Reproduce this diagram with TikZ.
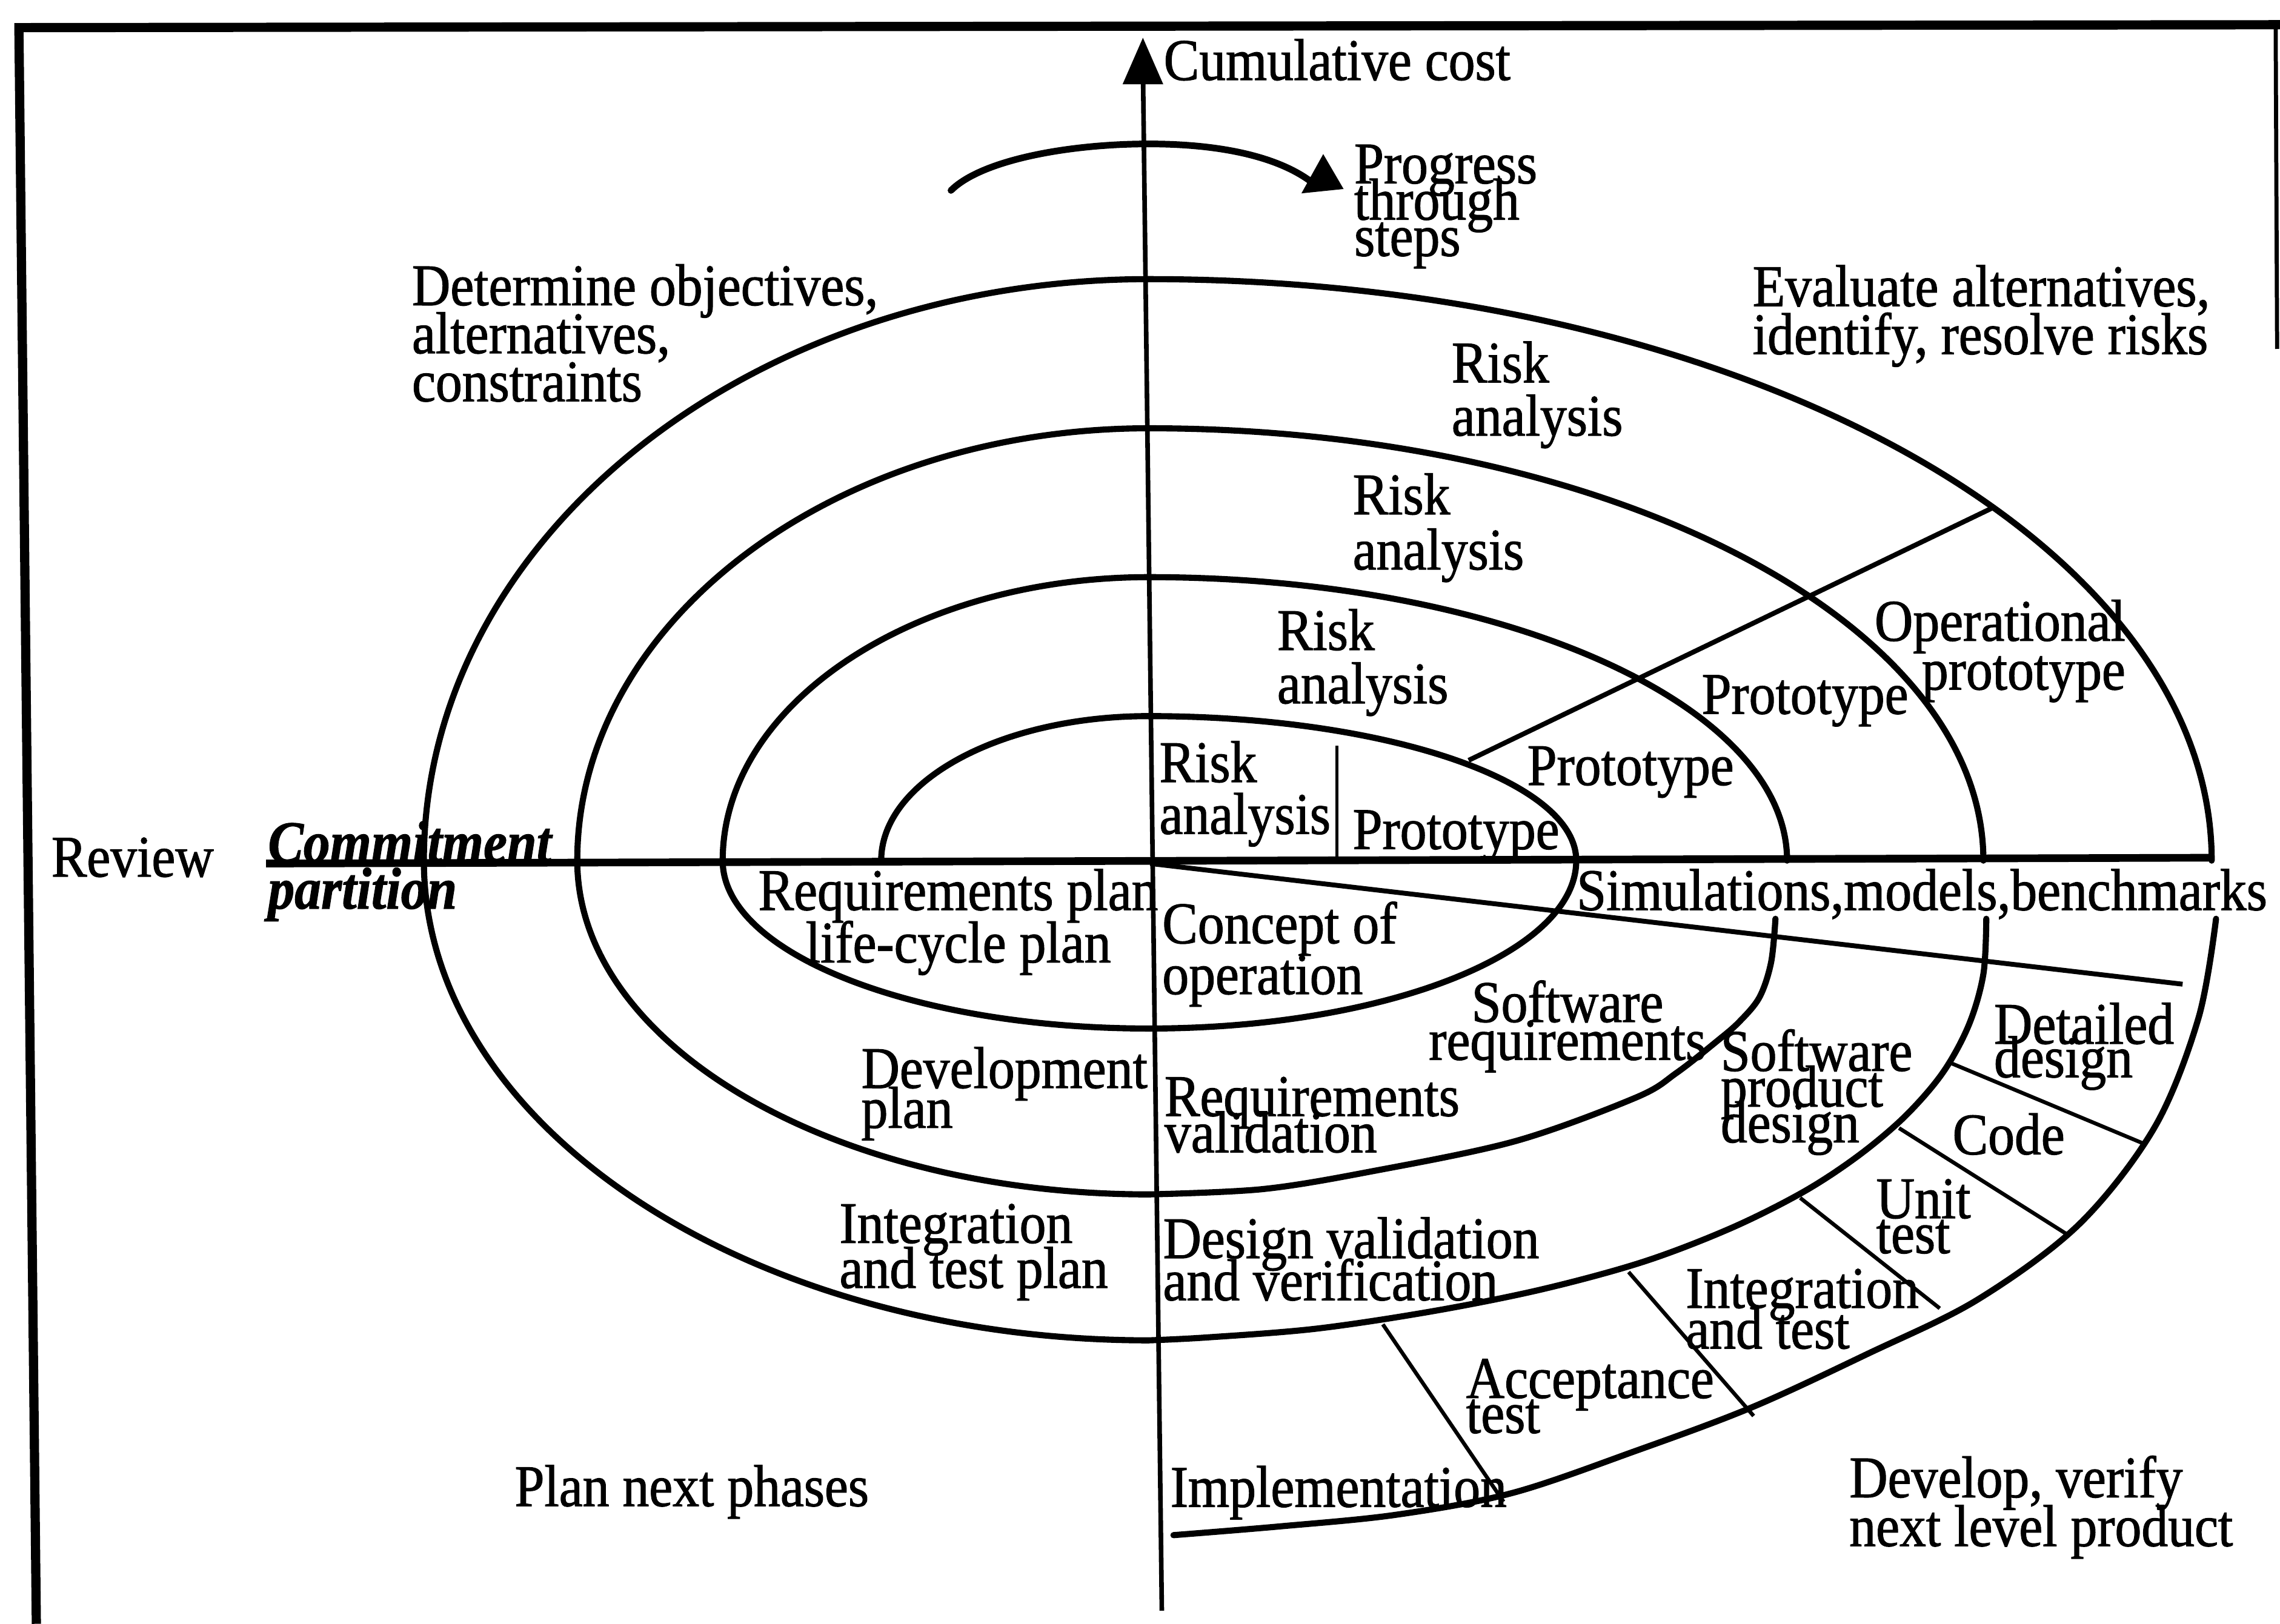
\documentclass[tikz,border=0pt]{standalone}
\usepackage{fontspec}
\setmainfont{Liberation Serif}[FakeStretch=0.9, FakeBold=1.2]
% let \baselineskip alone set the leading of stacked label lines
\newcommand{\tightlines}{\lineskiplimit-100pt\relax}
\begin{document}
\begin{tikzpicture}[x=0.02cm, y=-0.02cm,
  frame/.style={line width=3.6pt},
  thinframe/.style={line width=1.6pt},
  haxis/.style={line width=3.0pt},
  vaxis/.style={line width=1.8pt},
  spiral/.style={line width=2.4pt, line join=round, line cap=round},
  spoke/.style={line width=1.9pt},
  thinspoke/.style={line width=1.5pt},
  hairspoke/.style={line width=1.1pt},
  % labels are anchored at the baseline of their last line
  lbl/.style={inner sep=0pt, anchor=base west, align=left,
    font=\fontsize{23.1}{#1}\selectfont\tightlines},
  lbl/.default=19,
  clbl/.style={lbl=#1, anchor=base, align=center},
  rlbl/.style={lbl=#1, anchor=base east, align=right},
  bilbl/.style={inner sep=0pt, anchor=base west, align=left,
    font=\fontsize{23.1}{#1}\selectfont\tightlines\bfseries\itshape},
]
\useasboundingbox (0,0) rectangle (1568,1117);

% frame
\coordinate (tl) at (13,19);
\coordinate (tr) at (1568,17);
\coordinate (bl) at (25,1117);
\coordinate (rt) at (1565,17);
\coordinate (rb) at (1566,240);
\draw[frame] (bl) -- (tl) -- (tr);
\draw[thinframe] (rt) -- (rb);

% axes
\coordinate (O) at (790,592);
\coordinate (vtop) at (786,45);
\coordinate (vbot) at (799,1108);
\coordinate (hleft) at (183,594);
\coordinate (hright) at (1522,590);
\draw[vaxis] (vtop) -- (vbot);
\draw[haxis] (hleft) -- (hright);
\fill (786,26) -- (772,58) -- (800,58) -- cycle;

% progress arrow
\coordinate (pa) at (654,131);
\coordinate (pb) at (790,99);
\coordinate (pc) at (903,126);
\draw[line width=2.6pt, line cap=round] (pa) .. controls (675,110) and (735,99) .. (pb)
  .. controls (840,99) and (880,108) .. (pc);
\fill (910,106) -- (895,133) -- (924,130) -- cycle;

% spiral: inner turn
\draw[spiral] (606,592)
  arc[start angle=180, end angle=270, x radius=184, y radius=99.4]
  arc[start angle=270, end angle=360, x radius=294, y radius=99.4]
  arc[start angle=0, end angle=90, x radius=294, y radius=115.5]
  arc[start angle=90, end angle=180, x radius=293, y radius=115.5]
  arc[start angle=180, end angle=270, x radius=293, y radius=195]
  arc[start angle=270, end angle=360, x radius=439, y radius=195];
% second turn
\draw[spiral] plot[smooth, tension=0.55] coordinates {(1221,632) (1218,662) (1210,686) (1196,703) (1181,716) (1153,738) (1125,755) (1042,785) (942,806) (868,818) (790,821.6)}
  arc[start angle=90, end angle=180, x radius=393, y radius=229.6]
  arc[start angle=180, end angle=270, x radius=393, y radius=297.4]
  arc[start angle=270, end angle=360, x radius=574, y radius=297.4];
% third turn
\draw[spiral] plot[smooth, tension=0.55] coordinates {(1366,632) (1364,670) (1354,705) (1336,738) (1310,768) (1278,795) (1240,820) (1190,845) (1130,868) (1060,887) (985,902) (905,914) (830,920) (790,922)}
  arc[start angle=90, end angle=180, x radius=498.5, y radius=330]
  arc[start angle=180, end angle=270, x radius=498.5, y radius=400]
  arc[start angle=270, end angle=360, x radius=731, y radius=400];
% last half turn
\draw[spiral] plot[smooth, tension=0.55] coordinates {(1524,632) (1512,700) (1482,775) (1430,842) (1360,894) (1285,931) (1205,968) (1125,998) (1040,1027) (960,1042) (880,1050) (807,1056)};

% radial lines
\coordinate (s0) at (791,594);
\coordinate (s1) at (1501,677);
\draw[spoke] (s0) -- (s1);
\coordinate (u0) at (1010,523);
\coordinate (u1) at (1371,349);
\draw[spoke] (u0) -- (u1);
\coordinate (r0) at (919.5,513);
\coordinate (r1) at (919.5,592);
\draw[hairspoke] (r0) -- (r1);
\coordinate (d0) at (1341,731);  \coordinate (d1) at (1475,787);
\coordinate (c0) at (1306,776);  \coordinate (c1) at (1423,850);
\coordinate (t0) at (1238,824);  \coordinate (t1) at (1334,900);
\coordinate (i0) at (1120,875);  \coordinate (i1) at (1206,974);
\coordinate (a0) at (951,911);   \coordinate (a1) at (1034,1033);
\draw[thinspoke] (d0) -- (d1);
\draw[thinspoke] (c0) -- (c1);
\draw[thinspoke] (t0) -- (t1);
\draw[thinspoke] (i0) -- (i1);
\draw[thinspoke] (a0) -- (a1);

% labels
\node[lbl] (cost) at (800,55) {Cumulative cost};
\node[lbl=14.2] (progress) at (931,176) {Progress\\through\\steps};
\node[lbl=18.8] (determine) at (283,276) {Determine objectives,\\alternatives,\\constraints};
\node[lbl=18.8] (evaluate) at (1205,243.6) {Evaluate alternatives,\\identify, resolve risks};
\node[lbl=20.8] (risk4) at (998,299.6) {Risk\\analysis};
\node[lbl=21.6] (risk3) at (930,391.7) {Risk\\analysis};
\node[lbl=20.9] (risk2) at (878,483.8) {Risk\\analysis};
\node[lbl=20.3] (risk1) at (797,573.6) {Risk\\analysis};
\node[lbl] (proto1) at (930,584) {Prototype};
\node[lbl] (proto2) at (1050,540) {Prototype};
\node[lbl] (proto3) at (1170,491) {Prototype};
\node[rlbl=19.1] (operational) at (1462,474.3) {Operational\\prototype};
\node[lbl] (simul) at (1084,626) {Simulations,models,benchmarks};
\node[lbl] (review) at (35,603) {Review};
\node[bilbl=18.2] (commit) at (184,625) {Commitment\\partition};
\node[clbl=20.5] (reqplan) at (659,662) {Requirements plan\\life-cycle plan};
\node[lbl=19.9] (concept) at (799,683.8) {Concept of\\operation};
\node[clbl=14.8] (softreq) at (1078,729) {Software\\requirements};
\node[lbl=14] (softprod) at (1183,785.8) {Software\\product\\design};
\node[lbl=13.1] (detailed) at (1371,741) {Detailed\\design};
\node[lbl] (code) at (1342.5,794) {Code};
\node[lbl=13.7] (unit) at (1290,862) {Unit\\test};
\node[lbl=15.9] (integ) at (1159,927.6) {Integration\\and test};
\node[lbl=13.7] (accept) at (1008,985.7) {Acceptance\\test};
\node[lbl] (impl) at (804.6,1036.5) {Implementation};
\node[lbl=19.1] (develop) at (1271.5,1063.5) {Develop, verify\\next level product};
\node[lbl=16.5] (designval) at (799.5,894.4) {Design validation\\and verification};
\node[lbl=14.2] (reqval) at (800.5,792.6) {Requirements\\validation};
\node[lbl=15.6] (devplan) at (592,775.8) {Development\\plan};
\node[lbl=17.6] (integplan) at (577,885.9) {Integration\\and test plan};
\node[lbl] (plannext) at (353.7,1036) {Plan next phases};
\end{tikzpicture}
\end{document}
